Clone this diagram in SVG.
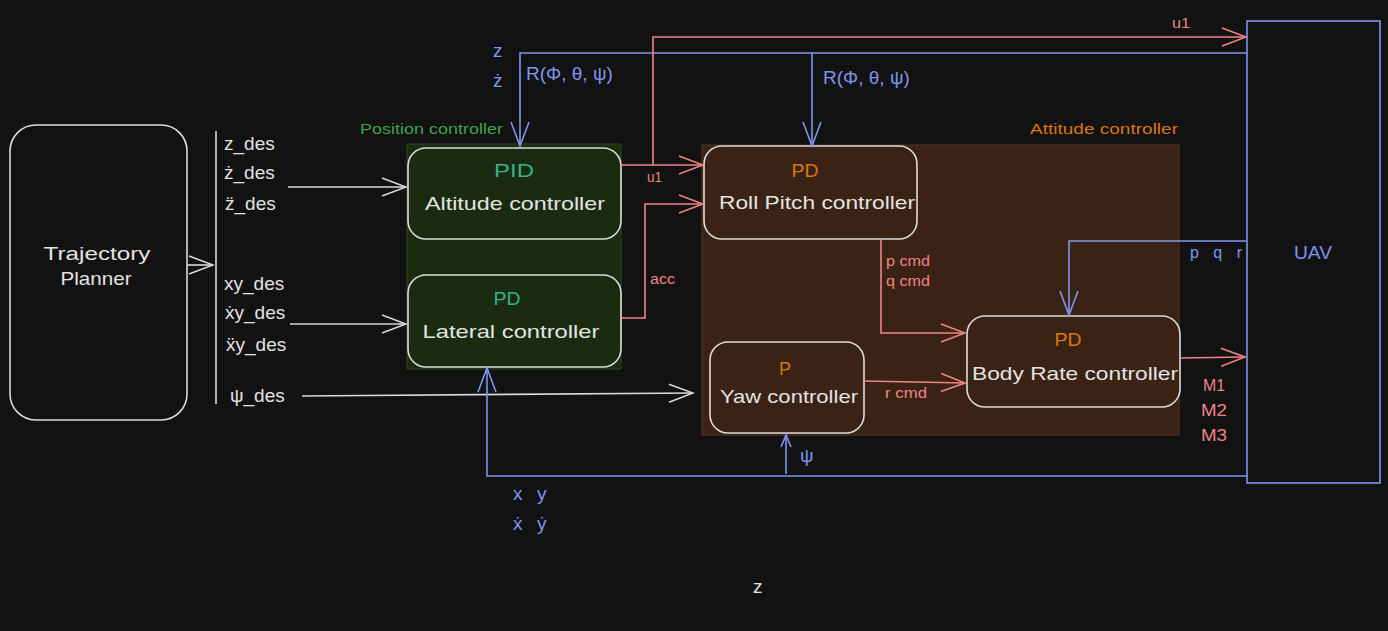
<svg xmlns="http://www.w3.org/2000/svg" width="1388" height="631" viewBox="0 0 1388 631">
<style>
.hand{font-family:"Liberation Sans","DejaVu Sans",sans-serif}
.t{font-family:"Liberation Sans",Arial,sans-serif;font-size:19px}
.w{fill:#e3e3e3}
.b{fill:#7f95ee}
.r{fill:#f08482}
.o{fill:#d9760f}
.tl{fill:#34b28c}
.box{stroke:#dcdcdc;stroke-width:1.6}
.lw{stroke:#d8d8d8;stroke-width:1.6;fill:none}
.lb{stroke:#7f95ee;stroke-width:1.6;fill:none}
.lr{stroke:#f08482;stroke-width:1.6;fill:none}
</style>
<defs>
<marker id="aw" viewBox="-26 -12 28 24" markerWidth="28" markerHeight="24" refX="0" refY="0" orient="auto" markerUnits="userSpaceOnUse"><path d="M-24,-9 L0,0 L-24,9" fill="none" stroke="#d8d8d8" stroke-width="1.6"/></marker>
<marker id="ab" viewBox="-26 -12 28 24" markerWidth="28" markerHeight="24" refX="0" refY="0" orient="auto" markerUnits="userSpaceOnUse"><path d="M-24,-9 L0,0 L-24,9" fill="none" stroke="#7f95ee" stroke-width="1.6"/></marker>
<marker id="ar" viewBox="-26 -12 28 24" markerWidth="28" markerHeight="24" refX="0" refY="0" orient="auto" markerUnits="userSpaceOnUse"><path d="M-24,-9 L0,0 L-24,9" fill="none" stroke="#f08482" stroke-width="1.6"/></marker>
<marker id="abs" viewBox="-14 -8 16 16" markerWidth="16" markerHeight="16" refX="0" refY="0" orient="auto" markerUnits="userSpaceOnUse"><path d="M-12,-5 L0,0 L-12,5" fill="none" stroke="#7f95ee" stroke-width="1.6"/></marker>
</defs>
<rect width="1388" height="631" fill="#121212"/>

<g id="position-controller-group">
<rect x="407" y="144" width="214" height="225" fill="#1b2b10" stroke="#2c4a22" stroke-width="1"/>
<text class="hand" x="360" y="134" font-size="14" fill="#3fa24a" textLength="143" lengthAdjust="spacingAndGlyphs">Position controller</text>
</g>
<g id="attitude-controller-group">
<rect x="702" y="145" width="477" height="290" fill="#3a2314" stroke="#5a3522" stroke-width="1"/>
<text class="hand" x="1030" y="134" font-size="14" fill="#d9760f" textLength="148" lengthAdjust="spacingAndGlyphs">Attitude controller</text>
</g>

<g id="trajectory-planner">
<rect x="10" y="125" width="177" height="295" rx="26" fill="none" class="box"/>
<text class="hand w" x="97" y="260" font-size="19" text-anchor="middle" textLength="107" lengthAdjust="spacingAndGlyphs">Trajectory</text>
<text class="hand w" x="96" y="285" font-size="19" text-anchor="middle" textLength="71" lengthAdjust="spacingAndGlyphs">Planner</text>
</g>

<g id="altitude-controller">
<rect x="408" y="148" width="213" height="91" rx="18" fill="#1b2b10" class="box"/>
<text class="hand tl" x="514" y="177" font-size="18" text-anchor="middle" textLength="40" lengthAdjust="spacingAndGlyphs">PID</text>
<text class="hand w" x="515" y="210" font-size="19" text-anchor="middle" textLength="180" lengthAdjust="spacingAndGlyphs">Altitude controller</text>
</g>
<g id="lateral-controller">
<rect x="408" y="275" width="213" height="92" rx="18" fill="#1b2b10" class="box"/>
<text class="hand tl" x="507" y="305" font-size="18" text-anchor="middle" textLength="27" lengthAdjust="spacingAndGlyphs">PD</text>
<text class="hand w" x="511" y="338" font-size="19" text-anchor="middle" textLength="177" lengthAdjust="spacingAndGlyphs">Lateral controller</text>
</g>
<g id="roll-pitch-controller">
<rect x="704" y="146" width="213" height="93" rx="18" fill="#3a2314" class="box"/>
<text class="hand o" x="805" y="177" font-size="18" text-anchor="middle" textLength="27" lengthAdjust="spacingAndGlyphs">PD</text>
<text class="hand w" x="817" y="209" font-size="19" text-anchor="middle" textLength="196" lengthAdjust="spacingAndGlyphs">Roll Pitch controller</text>
</g>
<g id="yaw-controller">
<rect x="710" y="342" width="154" height="91" rx="18" fill="#3a2314" class="box"/>
<text class="hand o" x="785" y="375" font-size="18" text-anchor="middle">P</text>
<text class="hand w" x="789" y="403" font-size="19" text-anchor="middle" textLength="138" lengthAdjust="spacingAndGlyphs">Yaw controller</text>
</g>
<g id="body-rate-controller">
<rect x="967" y="316" width="213" height="91" rx="18" fill="#3a2314" class="box"/>
<text class="hand o" x="1068" y="346" font-size="18" text-anchor="middle" textLength="27" lengthAdjust="spacingAndGlyphs">PD</text>
<text class="hand w" x="1075" y="380" font-size="19" text-anchor="middle" textLength="206" lengthAdjust="spacingAndGlyphs">Body Rate controller</text>
</g>
<g id="uav">
<rect x="1247" y="21" width="133" height="462" fill="none" stroke="#7f95ee" stroke-width="1.6"/>
<text class="hand b" x="1313" y="259" font-size="18" text-anchor="middle" textLength="38" lengthAdjust="spacingAndGlyphs">UAV</text>
</g>

<g id="connectors">
<path class="lw" d="M187,265 H213" marker-end="url(#aw)"/>
<path class="lw" d="M216,131 V404"/>
<path class="lw" d="M288,187 H406" marker-end="url(#aw)"/>
<path class="lw" d="M290,324 H406" marker-end="url(#aw)"/>
<path class="lw" d="M302,396 L693,393" marker-end="url(#aw)"/>

<path class="lb" d="M1247,53 H520 V146" marker-end="url(#ab)"/>
<path class="lb" d="M812,53 V146" marker-end="url(#ab)"/>
<path class="lb" d="M1246,241 H1069 V315" marker-end="url(#ab)"/>
<path class="lb" d="M1247,476 H487 V368" marker-end="url(#ab)"/>
<path class="lb" d="M786,474 V435" marker-end="url(#abs)"/>

<path class="lr" d="M621,165 H703" marker-end="url(#ar)"/>
<path class="lr" d="M653,165 V37 H1246" marker-end="url(#ar)"/>
<path class="lr" d="M621,318 H645 V204 H703" marker-end="url(#ar)"/>
<path class="lr" d="M881,239 V333 H965" marker-end="url(#ar)"/>
<path class="lr" d="M864,381 L965,383" marker-end="url(#ar)"/>
<path class="lr" d="M1180,358 L1245,357" marker-end="url(#ar)"/>
</g>

<g id="labels">
<text class="t w" x="224" y="150">z_des</text>
<text class="t w" x="224" y="179">ż_des</text>
<text class="t w" x="225" y="210" font-family="'DejaVu Sans',sans-serif" font-size="18">z̈_des</text>
<text class="t w" x="224" y="290">xy_des</text>
<text class="t w" x="225" y="319">ẋy_des</text>
<text class="t w" x="226" y="351">ẍy_des</text>
<text class="t w" x="230" y="402">ψ_des</text>

<text class="t b" x="493" y="57">z</text>
<text class="t b" x="493" y="87">ż</text>
<text class="t b" x="526" y="80">R(Φ, θ, ψ)</text>
<text class="t b" x="823" y="84">R(Φ, θ, ψ)</text>
<text class="hand b" x="1190" y="258" font-size="16" textLength="52" lengthAdjust="spacing">p q r</text>
<text class="t b" x="800" y="462">ψ</text>
<text class="t b" x="513" y="500">x</text>
<text class="t b" x="537" y="500">y</text>
<text class="t b" x="513" y="530">ẋ</text>
<text class="t b" x="537" y="530">ẏ</text>
<text class="t w" x="753" y="593">z</text>

<text class="hand r" x="1172" y="28" font-size="15" textLength="18" lengthAdjust="spacingAndGlyphs">u1</text>
<text class="hand r" x="647" y="182" font-size="14" textLength="15" lengthAdjust="spacingAndGlyphs">u1</text>
<text class="hand r" x="650" y="284" font-size="14" textLength="25" lengthAdjust="spacingAndGlyphs">acc</text>
<text class="hand r" x="886" y="266" font-size="14" textLength="44" lengthAdjust="spacingAndGlyphs">p cmd</text>
<text class="hand r" x="886" y="286" font-size="14" textLength="44" lengthAdjust="spacingAndGlyphs">q cmd</text>
<text class="hand r" x="885" y="398" font-size="14" textLength="42" lengthAdjust="spacingAndGlyphs">r cmd</text>
<text class="hand r" x="1203" y="391" font-size="16" textLength="22" lengthAdjust="spacingAndGlyphs">M1</text>
<text class="hand r" x="1201" y="416" font-size="16" textLength="26" lengthAdjust="spacingAndGlyphs">M2</text>
<text class="hand r" x="1201" y="441" font-size="16" textLength="26" lengthAdjust="spacingAndGlyphs">M3</text>
</g>
</svg>
